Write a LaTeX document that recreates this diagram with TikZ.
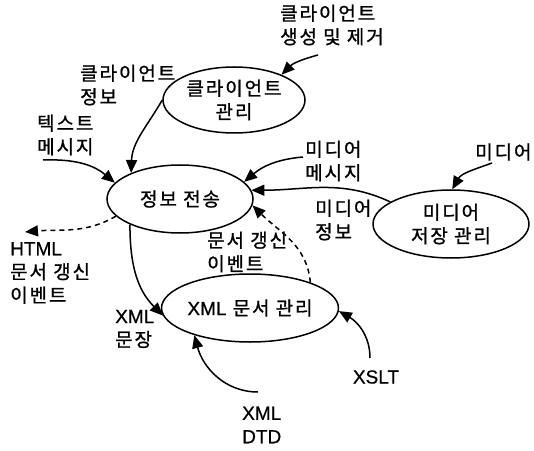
\documentclass[tikz,border=0pt]{standalone}
\usepackage{fontspec}
\setmainfont[LetterSpace=10,FakeBold=1]{Noto Sans CJK KR}
\newfontfamily\latfont[FakeBold=0.6]{Liberation Sans}
\usetikzlibrary{shapes.geometric,arrows.meta}
\newcommand{\lblfont}{\fontsize{19}{23.5}\selectfont}
\newcommand{\lat}[1]{{\latfont #1}}
\begin{document}
\begin{tikzpicture}[x=1pt,y=1pt,
  proc/.style={ellipse,draw,line width=1.5pt,inner sep=0pt,align=center,font=\lblfont},
  lab/.style={align=left,inner sep=0pt,font=\lblfont},
  flow/.style={line width=1.5pt,-{Triangle[length=13pt,width=11pt]}},
  evt/.style={flow,dash pattern=on 5pt off 4pt}]
\useasboundingbox (0,0) rectangle (534,450);
% processes
\node[proc,minimum width=142pt,minimum height=66pt] (A) at (234,350) {클라이언트\\관리};
\node[proc,minimum width=146pt,minimum height=68pt] (B) at (180,251) {정보 전송};
\node[proc,minimum width=156pt,minimum height=68pt] (C) at (451,226) {미디어\\저장 관리};
\node[proc,minimum width=160pt,minimum height=68pt] (D) at (250,142) {\lat{XML} 문서 관리};
% labels
\node[lab,anchor=west] (tGen) at (280,425) {클라이언트\\생성 및 제거};
\node[lab,anchor=west] (tCI) at (80,365) {클라이언트\\정보};
\node[lab,anchor=west] (tTM) at (37,315) {텍스트\\메시지};
\node[lab,anchor=west] (tMM) at (305,289) {미디어\\메시지};
\node[lab,anchor=west] (tM) at (475,298) {미디어};
\node[lab,anchor=west] (tMI) at (315,230) {미디어\\정보};
\node[lab,anchor=west] (tHTML) at (10,177) {\lat{HTML}\\문서 갱신\\이벤트};
\node[lab,anchor=west] (tDU) at (207,198) {문서 갱신\\이벤트};
\node[lab,anchor=west] (tXS) at (115,121) {\lat{XML}\\문장};
\node[lab] (tXSLT) at (376,73) {\lat{XSLT}};
\node[lab,anchor=west] (tDTD) at (242,25) {\lat{XML}\\\lat{DTD}};
% free ends
\coordinate (sGen) at (318,395);
\coordinate (sTM) at (43,290);
\coordinate (sMM) at (303,293);
\coordinate (sM) at (492,287);
\coordinate (eHTML) at (25,218);
\coordinate (sXSLT) at (370,92);
\coordinate (sDTD) at (258,58);
% connectors
\draw[flow] (sGen) to[out=195,in=45] (A.28);
\draw[flow] (A.180) to[out=240,in=88] (B.152);
\draw[flow] (sTM) to[out=2,in=140] (B.166);
\draw[flow] (sMM) to[out=185,in=40] (B.15);
\draw[flow] (C.160) to[out=155,in=0] (B.7);
\draw[flow] (sM) to[out=200,in=60] (C.88);
\draw[evt] (B.195) to[out=210,in=5] (eHTML);
\draw[flow] (B.207) to[out=270,in=135] (D.185);
\draw[evt] (D.23) to[out=95,in=-45] (B.-5);
\draw[flow] (sXSLT) to[out=90,in=-30] (D.-2);
\draw[flow] (sDTD) to[out=180,in=-75] (D.206);
\end{tikzpicture}
\end{document}
